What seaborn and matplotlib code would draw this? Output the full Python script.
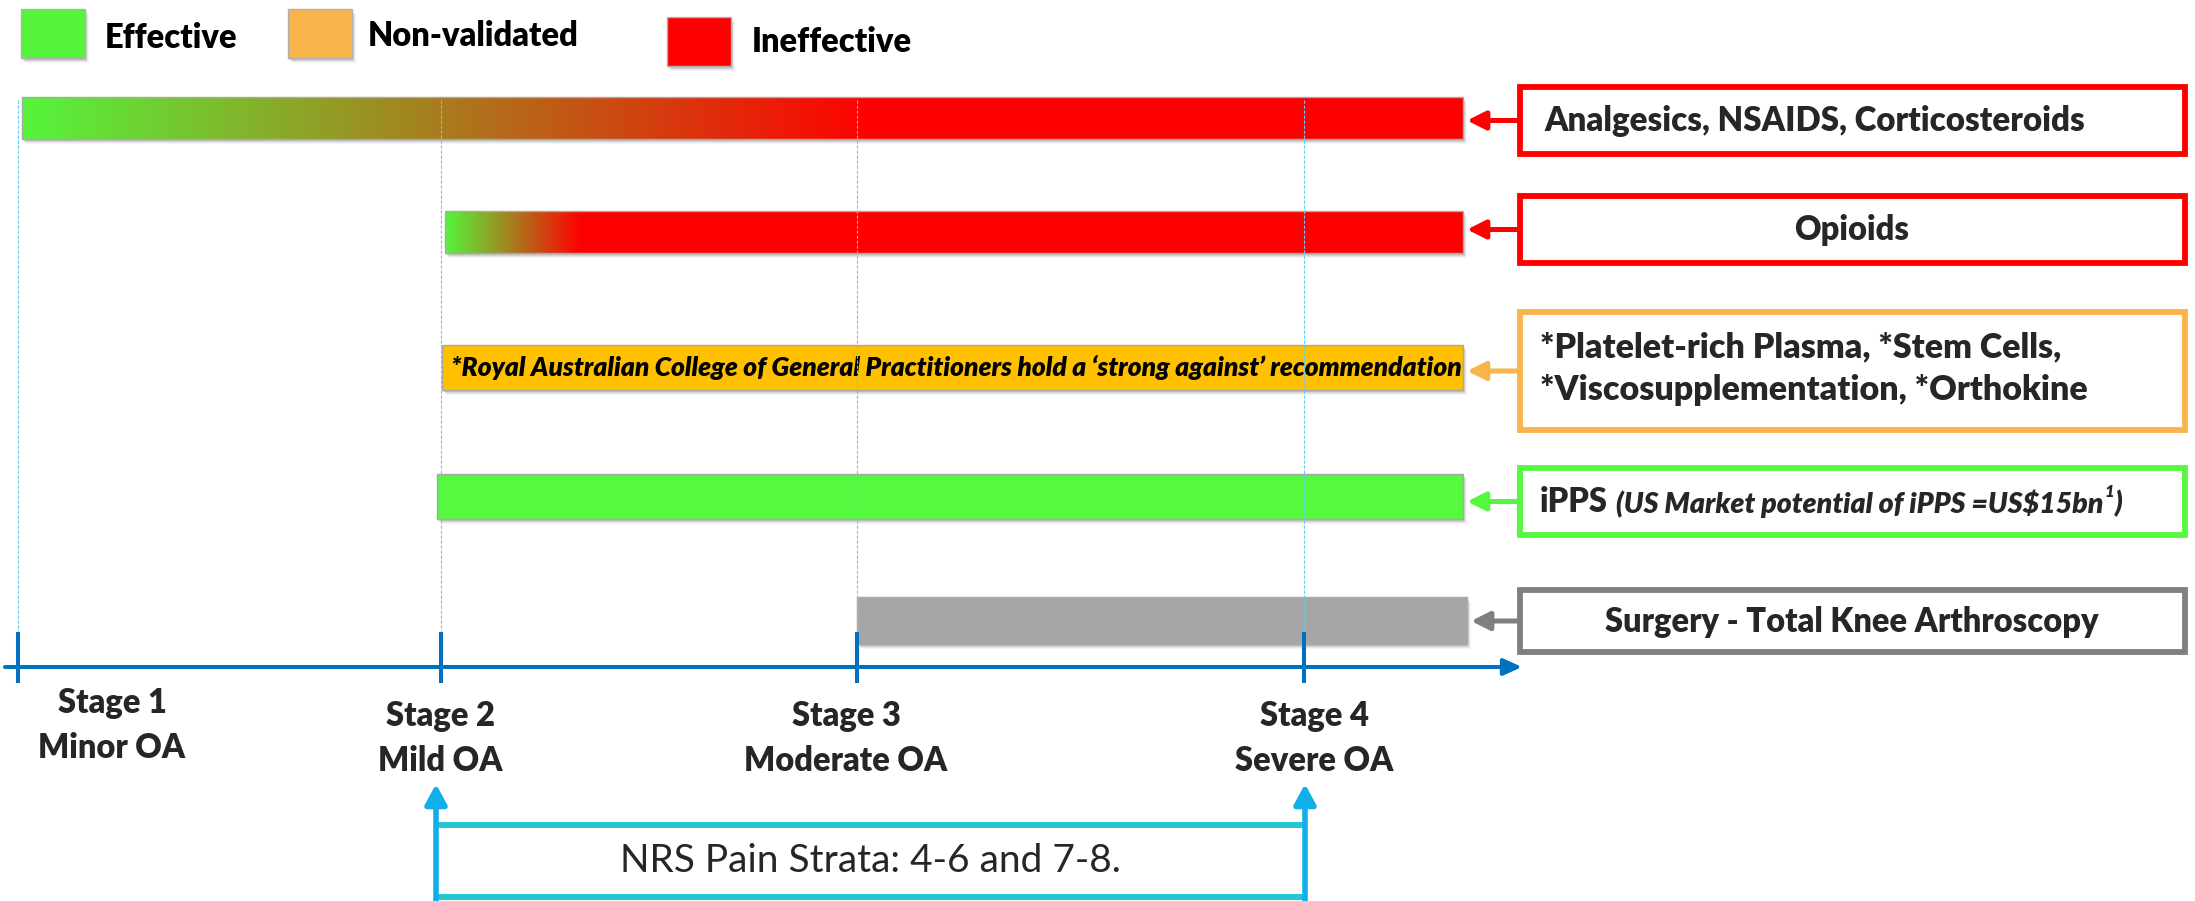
import matplotlib
matplotlib.use("Agg")
import matplotlib.pyplot as plt
from matplotlib.patches import Rectangle, FancyArrowPatch
import numpy as np
import seaborn as sns

sns.set_theme(style="white")
plt.rcParams['font.family'] = ['Lato', 'DejaVu Sans']
BOLD = 800

# legend
legend_labels = ["Effective", "Non-validated", "Ineffective"]
legend_colors = ["#55F53B", "#F9B54B", "#FF0000"]

# stages along the timeline (pixel position of each stage tick)
stage_names = ["Stage 1", "Stage 2", "Stage 3", "Stage 4"]
stage_desc = ["Minor OA", "Mild OA", "Moderate OA", "Severe OA"]
stage_pos = [18, 441, 857, 1304]

# treatments, top to bottom
treatments = ["Analgesics, NSAIDS, Corticosteroids",
              "Opioids",
              "*Platelet-rich Plasma, *Stem Cells,\n*Viscosupplementation, *Orthokine",
              "iPPS",
              "Surgery - Total Knee Arthroscopy"]
bar_start = [22, 445, 442, 437, 857]
bar_end = [1463, 1463, 1463, 1463, 1467]
fade_end = [870, 581, None, None, None]   # green -> red gradient reaches full red here
bar_colors = ["#FF0000", "#FF0000", "#FFC000", "#55FA3F", "#A6A6A6"]
box_colors = ["#FF0000", "#FF0000", "#F9B44C", "#55F83E", "#808080"]

bar_note = "*Royal Australian College of General Practitioners hold a \u2018strong against\u2019 recommendation"
ipps_note = "(US Market potential of iPPS =US$15bn"
nrs_label = "NRS Pain Strata: 4-6 and 7-8."

# layout
W, H = 2195, 901
row_y = [118, 232, 367, 496, 620]
bar_h = [42, 42, 45, 45, 47]
box_span = [(87, 154), (196, 263), (312, 430), (468, 535), (590, 652)]
box_x0, box_x1 = 1520, 2185
axis_y = 667
blue = "#0070C0"

fig = plt.figure(figsize=(W / 100, H / 100), dpi=100)
ax = fig.add_axes([0, 0, 1, 1])
ax.axis("off")


def shadow(x0, y0, w, h):
    for k, a in enumerate([0.09, 0.08, 0.06, 0.04]):
        ax.add_patch(Rectangle((x0 + 1 + k, y0 + 2 + k), w, h, facecolor="black",
                               alpha=a, lw=0, zorder=1))


green_rgb = np.array([85, 245, 59]) / 255
red_rgb = np.array([255, 0, 0]) / 255

# legend
leg_x = [21, 288, 667]
leg_y = [9, 9, 17]
leg_tx = [105, 368, 752]
leg_ty = [38, 36, 42]
for i in range(3):
    shadow(leg_x[i], leg_y[i], 64, 49)
    ax.add_patch(Rectangle((leg_x[i], leg_y[i]), 64, 49, facecolor=legend_colors[i],
                           edgecolor="#B0B0B0", lw=1, zorder=2))
    ax.text(leg_tx[i], leg_ty[i], legend_labels[i], fontsize=23.5, fontweight=BOLD,
            ha="left", va="center", color="black")

# bars
for i in range(len(treatments)):
    x0 = bar_start[i]
    w = bar_end[i] - x0
    y0 = row_y[i] - bar_h[i] / 2
    shadow(x0, y0, w, bar_h[i])
    if fade_end[i] is not None:
        xs = np.linspace(x0, bar_end[i], 800)
        t = np.clip((xs - x0) / (fade_end[i] - x0), 0, 1)[:, None]
        grad = green_rgb * (1 - t) + red_rgb * t
        ax.imshow(grad[None, :, :], extent=[x0, bar_end[i], y0 + bar_h[i], y0],
                  aspect="auto", interpolation="bilinear", zorder=2)
        ax.add_patch(Rectangle((x0, y0), w, bar_h[i], fill=False, edgecolor="#A8A8A8",
                               lw=1, zorder=3))
    else:
        ax.barh(row_y[i], w, left=x0, height=bar_h[i], color=bar_colors[i],
                edgecolor="#A8A8A8", lw=1, zorder=2)

ax.text(451, row_y[2], bar_note, fontsize=19, fontweight=BOLD, fontstyle="italic",
        ha="left", va="center", color="black", zorder=4)

# guide lines from the stages up to the top bar
for x in stage_pos:
    ax.plot([x, x], [100, 632], color="#62CBF3", lw=0.8, ls=(0, (3, 1.5)), zorder=4)

# treatment boxes and arrows
for i in range(len(treatments)):
    b0, b1 = box_span[i]
    ax.add_patch(Rectangle((box_x0, b0), box_x1 - box_x0, b1 - b0, facecolor="white",
                           edgecolor=box_colors[i], lw=4.2, zorder=3))
    yc = (b0 + b1) / 2
    ax.add_patch(FancyArrowPatch((box_x0, yc), (bar_end[i] + 4, yc),
                                 arrowstyle="-|>,head_length=11,head_width=5.5",
                                 mutation_scale=1, lw=3.6, color=box_colors[i],
                                 shrinkA=0, shrinkB=0, zorder=3))

ax.text(1544, 121, treatments[0], fontsize=23.8, fontweight=BOLD, ha="left", va="center")
ax.text(1852, 230, treatments[1], fontsize=23.5, fontweight=BOLD, ha="center", va="center")
ax.text(1540, 369, treatments[2], fontsize=24.5, fontweight=BOLD, ha="left", va="center",
        linespacing=1.4)
ax.text(1852, 622, treatments[4], fontsize=23.5, fontweight=BOLD, ha="center", va="center")

# iPPS box text built from pieces
ax.set_xlim(0, W)
ax.set_ylim(H, 0)
renderer = fig.canvas.get_renderer()
inv = ax.transData.inverted()
t1 = ax.text(1540, 502, treatments[3], fontsize=23.5, fontweight=BOLD, ha="left", va="center")
x_next = inv.transform(t1.get_window_extent(renderer).get_points())[1][0] + 8
t2 = ax.text(x_next, 504, ipps_note, fontsize=20.5, fontweight=BOLD, fontstyle="italic",
             ha="left", va="center")
x_next = inv.transform(t2.get_window_extent(renderer).get_points())[1][0] + 1
t3 = ax.text(x_next, 492, "1", fontsize=12, fontweight=BOLD, fontstyle="italic",
             ha="left", va="center")
x_next = inv.transform(t3.get_window_extent(renderer).get_points())[1][0] + 1
ax.text(x_next, 504, ")", fontsize=20.5, fontweight=BOLD, fontstyle="italic",
        ha="left", va="center")

# timeline axis
ax.add_patch(FancyArrowPatch((5, axis_y), (1522, axis_y),
                             arrowstyle="-|>,head_length=11,head_width=5",
                             mutation_scale=1, lw=2.9, color=blue,
                             shrinkA=0, shrinkB=0, zorder=5))
for x in stage_pos:
    ax.plot([x, x], [632, 683], color=blue, lw=2.9, solid_capstyle="butt", zorder=5)

label_x = [112, 440, 846, 1314]
label_y = [703, 716, 716, 716]
for i in range(4):
    ax.text(label_x[i], label_y[i], stage_names[i], fontsize=23.5, fontweight=BOLD,
            ha="center", va="center")
    ax.text(label_x[i], label_y[i] + 45, stage_desc[i], fontsize=23.5, fontweight=BOLD,
            ha="center", va="center")

# NRS pain strata bracket
nrs_x = [436, 1305]
for yy in [825, 897]:
    ax.plot(nrs_x, [yy, yy], color="#23C6D2", lw=4.3, solid_capstyle="butt", zorder=4)
for x in nrs_x:
    ax.add_patch(FancyArrowPatch((x, 905), (x, 784),
                                 arrowstyle="-|>,head_length=12,head_width=6.5",
                                 mutation_scale=1, lw=4, color="#10AEEA",
                                 shrinkA=0, shrinkB=0, zorder=5))
ax.text(sum(nrs_x) / 2, 861, nrs_label, fontsize=28, ha="center", va="center")

ax.set_xlim(0, W)
ax.set_ylim(H, 0)
fig.savefig("out.png", dpi=100, facecolor="white")
